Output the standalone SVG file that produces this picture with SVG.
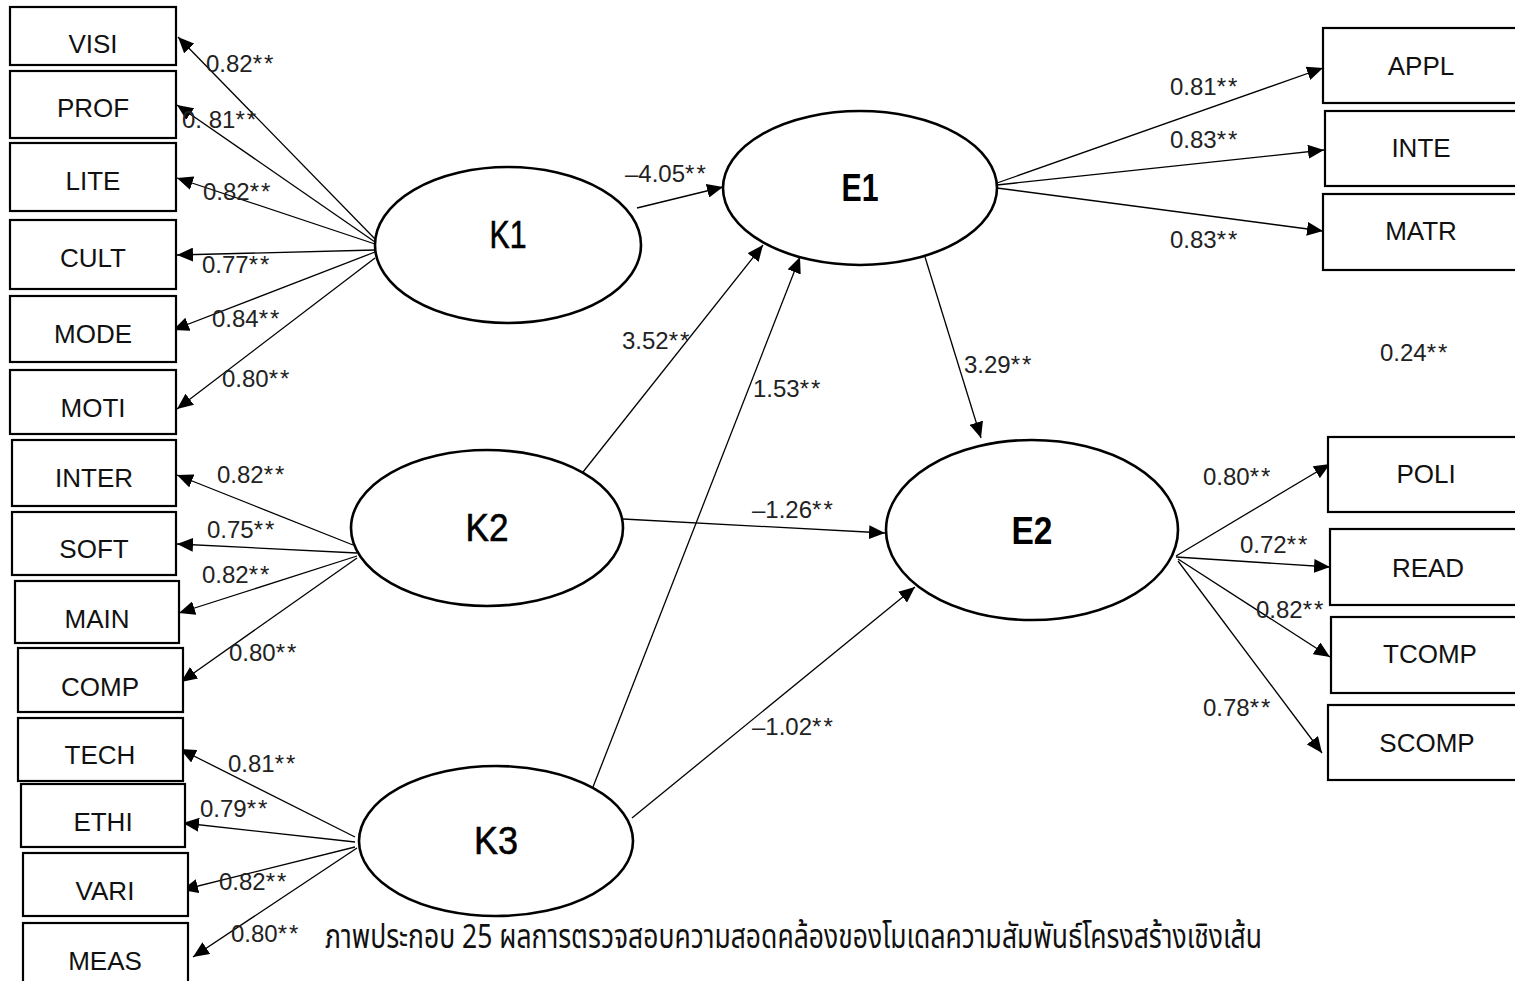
<svg xmlns="http://www.w3.org/2000/svg" width="1515" height="981" viewBox="0 0 1515 981">
  <style>
    .box { fill: #fff; stroke: #000; stroke-width: 2.2; }
    .lat { fill: #fff; stroke: #000; stroke-width: 2.6; }
    .lbl { font-family: "Liberation Sans", Arial, sans-serif; font-size: 26px; fill: #111; text-anchor: middle; }
    .num { font-family: "Liberation Sans", Arial, sans-serif; font-size: 24px; fill: #222; }
    .num tspan { letter-spacing: 2px; }
    .kn { font-family: "Liberation Sans", Arial, sans-serif; font-size: 38px; fill: #000; text-anchor: middle; stroke: #000; stroke-width: 0.6; }
    .en { font-family: "Liberation Sans", Arial, sans-serif; font-size: 38px; font-weight: bold; fill: #000; text-anchor: middle; }
    .cap { font-family: "Noto Sans Thai", "Noto Sans", "DejaVu Sans", sans-serif; font-size: 33px; fill: #111; }
    #connectors line { stroke: #000; stroke-width: 1.3; marker-end: url(#tip); }
  </style>
  <defs>
    <marker id="tip" viewBox="0 0 16 14" refX="16" refY="7" markerWidth="16" markerHeight="14" markerUnits="userSpaceOnUse" orient="auto">
      <path d="M0,0 L16,7 L0,14 Z" fill="#000"/>
    </marker>
  </defs>
  <rect width="1515" height="981" fill="#fff"/>

  <!-- connectors -->
  <g id="connectors">
    <!-- K1 indicators -->
    <line x1="376" y1="240" x2="178" y2="37"/>
    <line x1="375" y1="242" x2="177" y2="105"/>
    <line x1="375" y1="244" x2="177" y2="178"/>
    <line x1="375" y1="250" x2="177" y2="255"/>
    <line x1="375" y1="252" x2="173" y2="330"/>
    <line x1="375" y1="258" x2="177" y2="409"/>
    <!-- K2 indicators -->
    <line x1="353" y1="545" x2="177" y2="475"/>
    <line x1="357" y1="553" x2="177" y2="544"/>
    <line x1="357" y1="556" x2="179" y2="613"/>
    <line x1="357" y1="558" x2="181" y2="682"/>
    <!-- K3 indicators -->
    <line x1="355" y1="837" x2="180" y2="749"/>
    <line x1="355" y1="842" x2="183" y2="823"/>
    <line x1="355" y1="847" x2="182" y2="890"/>
    <line x1="357" y1="848" x2="193" y2="957"/>
    <!-- structural paths -->
    <line x1="637" y1="208" x2="723" y2="187"/>
    <line x1="583" y1="472" x2="763" y2="245"/>
    <line x1="593" y1="787" x2="800" y2="257"/>
    <line x1="925" y1="257" x2="981" y2="438"/>
    <line x1="623" y1="519" x2="885" y2="533"/>
    <line x1="632" y1="818" x2="915" y2="587"/>
    <!-- E1 indicators -->
    <line x1="997" y1="183" x2="1323" y2="68"/>
    <line x1="997" y1="185" x2="1324" y2="150"/>
    <line x1="997" y1="188" x2="1323" y2="231"/>
    <!-- E2 indicators -->
    <line x1="1176" y1="556" x2="1330" y2="464"/>
    <line x1="1176" y1="557" x2="1330" y2="567"/>
    <line x1="1178" y1="559" x2="1330" y2="657"/>
    <line x1="1178" y1="561" x2="1322" y2="753"/>
  </g>

  <!-- path coefficients -->
  <g id="coefficients" class="num">
    <text x="206" y="72">0.82<tspan>**</tspan></text>
    <text x="182" y="128">0. 81<tspan>**</tspan></text>
    <text x="203" y="200">0.82<tspan>**</tspan></text>
    <text x="202" y="273">0.77<tspan>**</tspan></text>
    <text x="212" y="327">0.84<tspan>**</tspan></text>
    <text x="222" y="387">0.80<tspan>**</tspan></text>
    <text x="217" y="483">0.82<tspan>**</tspan></text>
    <text x="207" y="538">0.75<tspan>**</tspan></text>
    <text x="202" y="583">0.82<tspan>**</tspan></text>
    <text x="229" y="661">0.80<tspan>**</tspan></text>
    <text x="228" y="772">0.81<tspan>**</tspan></text>
    <text x="200" y="817">0.79<tspan>**</tspan></text>
    <text x="219" y="890">0.82<tspan>**</tspan></text>
    <text x="231" y="942">0.80<tspan>**</tspan></text>
    <text x="625" y="182">–4.05<tspan>**</tspan></text>
    <text x="622" y="349">3.52<tspan>**</tspan></text>
    <text x="753" y="397">1.53<tspan>**</tspan></text>
    <text x="964" y="373">3.29<tspan>**</tspan></text>
    <text x="752" y="518">–1.26<tspan>**</tspan></text>
    <text x="752" y="735">–1.02<tspan>**</tspan></text>
    <text x="1170" y="95">0.81<tspan>**</tspan></text>
    <text x="1170" y="148">0.83<tspan>**</tspan></text>
    <text x="1170" y="248">0.83<tspan>**</tspan></text>
    <text x="1380" y="361">0.24<tspan>**</tspan></text>
    <text x="1203" y="485">0.80<tspan>**</tspan></text>
    <text x="1240" y="553">0.72<tspan>**</tspan></text>
    <text x="1256" y="618">0.82<tspan>**</tspan></text>
    <text x="1203" y="716">0.78<tspan>**</tspan></text>
  </g>

  <!-- observed variables: K1 -->
  <g id="VISI"><rect class="box" x="10" y="7" width="166" height="58"/><text class="lbl" x="93" y="53">VISI</text></g>
  <g id="PROF"><rect class="box" x="10" y="71" width="166" height="67"/><text class="lbl" x="93" y="117">PROF</text></g>
  <g id="LITE"><rect class="box" x="10" y="143" width="166" height="68"/><text class="lbl" x="93" y="190">LITE</text></g>
  <g id="CULT"><rect class="box" x="10" y="220" width="166" height="69"/><text class="lbl" x="93" y="267">CULT</text></g>
  <g id="MODE"><rect class="box" x="10" y="296" width="166" height="66"/><text class="lbl" x="93" y="343">MODE</text></g>
  <g id="MOTI"><rect class="box" x="10" y="370" width="166" height="64"/><text class="lbl" x="93" y="417">MOTI</text></g>
  <!-- observed variables: K2 -->
  <g id="INTER"><rect class="box" x="12" y="440" width="164" height="66"/><text class="lbl" x="94" y="487">INTER</text></g>
  <g id="SOFT"><rect class="box" x="12" y="512" width="164" height="63"/><text class="lbl" x="94" y="558">SOFT</text></g>
  <g id="MAIN"><rect class="box" x="15" y="581" width="164" height="62"/><text class="lbl" x="97" y="628">MAIN</text></g>
  <g id="COMP"><rect class="box" x="18" y="648" width="165" height="64"/><text class="lbl" x="100" y="696">COMP</text></g>
  <!-- observed variables: K3 -->
  <g id="TECH"><rect class="box" x="18" y="718" width="165" height="63"/><text class="lbl" x="100" y="764">TECH</text></g>
  <g id="ETHI"><rect class="box" x="21" y="784" width="164" height="63"/><text class="lbl" x="103" y="831">ETHI</text></g>
  <g id="VARI"><rect class="box" x="23" y="853" width="165" height="63"/><text class="lbl" x="105" y="900">VARI</text></g>
  <g id="MEAS"><rect class="box" x="23" y="923" width="165" height="80"/><text class="lbl" x="105" y="970">MEAS</text></g>

  <!-- observed variables: E1 -->
  <g id="APPL"><rect class="box" x="1323" y="28" width="200" height="75"/><text class="lbl" x="1421" y="75">APPL</text></g>
  <g id="INTE"><rect class="box" x="1325" y="111" width="200" height="75"/><text class="lbl" x="1421" y="157">INTE</text></g>
  <g id="MATR"><rect class="box" x="1323" y="194" width="200" height="76"/><text class="lbl" x="1421" y="240">MATR</text></g>
  <!-- observed variables: E2 -->
  <g id="POLI"><rect class="box" x="1328" y="437" width="200" height="75"/><text class="lbl" x="1426" y="483">POLI</text></g>
  <g id="READ"><rect class="box" x="1330" y="529" width="200" height="76"/><text class="lbl" x="1428" y="577">READ</text></g>
  <g id="TCOMP"><rect class="box" x="1331" y="617" width="200" height="76"/><text class="lbl" x="1430" y="663">TCOMP</text></g>
  <g id="SCOMP"><rect class="box" x="1328" y="705" width="200" height="75"/><text class="lbl" x="1427" y="752">SCOMP</text></g>

  <!-- latent variables -->
  <g id="K1"><ellipse class="lat" cx="508" cy="245" rx="133" ry="78"/><text class="kn" x="508" y="248" textLength="37" lengthAdjust="spacingAndGlyphs">K1</text></g>
  <g id="K2"><ellipse class="lat" cx="487" cy="528" rx="136" ry="78"/><text class="kn" x="487" y="541" textLength="43" lengthAdjust="spacingAndGlyphs">K2</text></g>
  <g id="K3"><ellipse class="lat" cx="496" cy="841" rx="137" ry="75"/><text class="kn" x="496" y="854" textLength="44" lengthAdjust="spacingAndGlyphs">K3</text></g>
  <g id="E1"><ellipse class="lat" cx="860" cy="188" rx="137" ry="77"/><text class="en" x="860" y="201" textLength="37" lengthAdjust="spacingAndGlyphs">E1</text></g>
  <g id="E2"><ellipse class="lat" cx="1032" cy="530" rx="146" ry="90"/><text class="en" x="1032" y="544" textLength="41" lengthAdjust="spacingAndGlyphs">E2</text></g>

  <!-- caption -->
  <text class="cap" x="325" y="948" textLength="937" lengthAdjust="spacingAndGlyphs">ภาพประกอบ 25 ผลการตรวจสอบความสอดคล้องของโมเดลความสัมพันธ์โครงสร้างเชิงเส้น</text>
</svg>
